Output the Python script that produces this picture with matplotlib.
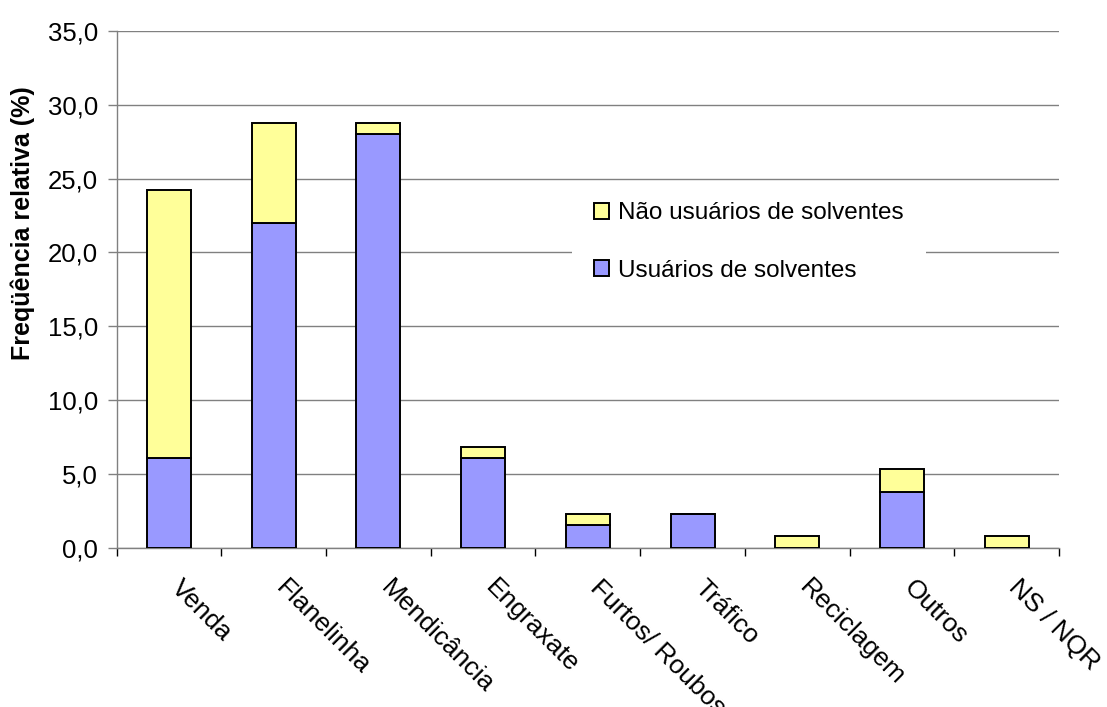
import matplotlib
matplotlib.use("Agg")
import matplotlib.pyplot as plt
import numpy as np
from matplotlib.ticker import FuncFormatter, FixedLocator

plt.rcParams['font.family'] = ['Liberation Sans', 'DejaVu Sans']

categorias = ["Venda", "Flanelinha", "Mendicância", "Engraxate", "Furtos/ Roubos",
              "Tráfico", "Reciclagem", "Outros", "NS / NQR"]
usuarios = [6.06, 21.97, 28.03, 6.06, 1.52, 2.27, 0.0, 3.79, 0.0]
nao_usuarios = [18.18, 6.82, 0.76, 0.76, 0.76, 0.0, 0.76, 1.52, 0.76]

cor_usuarios = "#9999FF"
cor_nao_usuarios = "#FFFF99"
cinza = "#808080"

fig = plt.figure(figsize=(11.07, 7.07), dpi=100)
ax = fig.add_axes([0.1054, 0.2253, 0.8512, 0.7309])

x = np.arange(len(categorias))
largura = 0.42

ax.set_axisbelow(True)
b1 = ax.bar(x, usuarios, largura, color=cor_usuarios, edgecolor="black",
            linewidth=1.4, label="Usuários de solventes", zorder=3)
b2 = ax.bar(x, nao_usuarios, largura, bottom=usuarios, color=cor_nao_usuarios,
            edgecolor="black", linewidth=1.4, label="Não usuários de solventes", zorder=3)

ax.set_xlim(-0.5, len(categorias) - 0.5)
ax.set_ylim(0, 35)
ax.set_yticks(np.arange(0, 35.1, 5))
ax.yaxis.set_major_formatter(FuncFormatter(lambda v, p: ("%.1f" % v).replace(".", ",")))
ax.yaxis.grid(True, color=cinza, linewidth=1.0)
ax.tick_params(axis="y", direction="out", length=6.5, width=1.0, color=cinza,
               labelsize=18.5, pad=7)

# marcas entre categorias, rótulos escritos à parte
ax.set_xticks([])
ax.xaxis.set_minor_locator(FixedLocator(np.arange(-0.5, len(categorias), 1.0)))
ax.tick_params(axis="x", which="minor", direction="out", length=6, width=1.0, color="black")

for s in ["top", "right"]:
    ax.spines[s].set_visible(False)
for s in ["left", "bottom"]:
    ax.spines[s].set_color(cinza)
    ax.spines[s].set_linewidth(1.0)

desloc = matplotlib.transforms.ScaledTranslation(6 / 100, -36 / 100, fig.dpi_scale_trans)
for i, nome in enumerate(categorias):
    ax.text(i, 0, nome, transform=ax.get_xaxis_transform() + desloc,
            rotation=-45, rotation_mode="anchor", ha="left", va="center", fontsize=19)

fig.text(23 / 1107, 1 - 223 / 707, "Freqüência relativa (%)", rotation=90,
         ha="center", va="center", fontsize=18, fontweight="bold")

leg = ax.legend(handles=[b2, b1], loc="center", bbox_to_anchor=(749 / 1107, 1 - 242 / 707),
                bbox_transform=fig.transFigure, fontsize=17.5, frameon=True, fancybox=False,
                framealpha=1, edgecolor="none", handlelength=0.6, handleheight=0.6,
                handletextpad=0.4, labelspacing=1.45, borderpad=0.9)
leg.set_zorder(5)

fig.savefig("out.png", dpi=100)
